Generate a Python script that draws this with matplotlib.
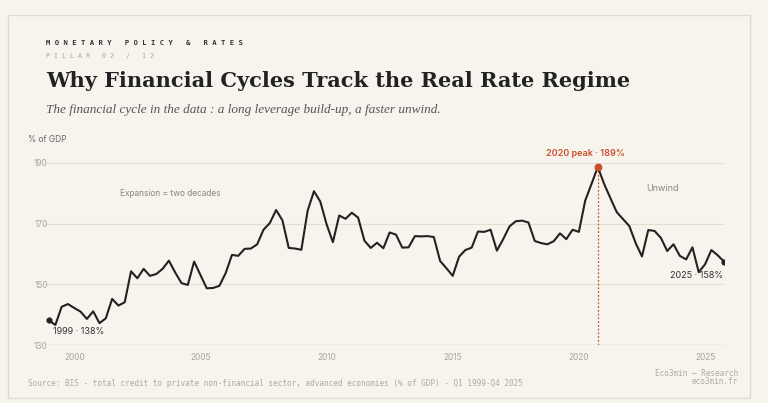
import matplotlib
matplotlib.use("Agg")
import matplotlib.pyplot as plt
from matplotlib.patches import Rectangle

start_year = 1999.0
values = [138.1,136.6,142.6,143.5,142.2,141.0,138.6,141.1,137.2,138.8,145.2,143.0,144.1,154.3,152.0,155.1,
          152.8,153.4,155.1,157.8,153.9,150.4,149.8,157.5,153.1,148.7,148.8,149.5,153.7,159.7,159.4,161.7,
          161.8,163.2,168.0,170.2,174.5,171.1,162.0,161.8,161.4,174.3,180.7,177.3,169.8,163.9,172.7,171.6,
          173.6,172.0,164.4,162.0,163.7,161.9,167.1,166.4,162.1,162.2,
          165.9,165.8,165.9,165.6,157.7,155.3,152.8,159.1,161.3,162.1,167.4,167.3,168.0,161.1,164.9,
          169.1,170.8,171.0,170.4,164.3,163.6,163.2,164.2,166.8,164.9,168.0,167.3,177.6,183.1,188.7,
          183.1,178.4,173.8,171.5,169.2,163.6,159.2,167.9,167.6,165.3,161.0,163.2,159.4,158.2,162.2,
          154.0,156.6,161.3,159.6,157.5]
years = [start_year + i/4 for i in range(len(values))]
yticks = [130, 150, 170, 190]
xticks = [2000, 2005, 2010, 2015, 2020, 2025]

BG = "#f7f4ee"; INK = "#222222"; RED = "#c9502a"; GREY = "#8a8580"; GRID = "#e4ded3"

fig = plt.figure(figsize=(7.68, 4.03), dpi=100, facecolor=BG)
fig.patches.append(Rectangle((8/768, 1-398/403), 742/768, 383/403, transform=fig.transFigure,
                             fill=False, ec="#e0dbd0", lw=1))
W, H = 768, 403
def fy(p): return 1 - p/H

fig.text(46/W, fy(43), "M O N E T A R Y   P O L I C Y   &   R A T E S", family="DejaVu Sans Mono", fontsize=5.2,
         color="#333333", va="center", weight="bold")
fig.text(46/W, fy(56), "P I L L A R   0 2   /   1 2", family="DejaVu Sans Mono", fontsize=4.8, color="#aaa49a", va="center")
fig.text(46/W, fy(81), "Why Financial Cycles Track the Real Rate Regime", family="DejaVu Serif",
         fontsize=15, weight="bold", color=INK, va="center")
fig.text(46/W, fy(110), "The financial cycle in the data : a long leverage build-up, a faster unwind.",
         family="Liberation Serif", style="italic", fontsize=9.5, color="#555555", va="center")
fig.text(28/W, fy(140), "% of GDP", family="Inter", fontsize=6, color="#666666", va="center")

ax = fig.add_axes([45/W, fy(345), (724-45)/W, (345-150)/H])
ax.set_facecolor(BG)
y_top = 190 + (163-150)/((345-163)/60)
ax.set_ylim(130, y_top)
ax.set_xlim(1998.84, years[-1] + 0.001)
ax.plot(years, values, color=INK, lw=1.5, zorder=3)
ax.set_yticks(yticks); ax.set_xticks(xticks)
ax.grid(axis="y", color=GRID, lw=0.8)
for s in ax.spines.values(): s.set_visible(False)
ax.axhline(130, color="#d8d2c6", lw=1)
ax.tick_params(length=0, labelsize=6, labelcolor="#aaa49a", pad=6)
for t in ax.get_xticklabels() + ax.get_yticklabels(): t.set_family("Inter")
ax.yaxis.set_tick_params(pad=-2)

ax.scatter([years[0], years[-1]], [values[0], values[-1]], s=12, color=INK, zorder=4)
ax.text(years[0]+0.15, values[0]-2.3, "1999 · 138%", family="Inter", fontsize=6.5, color="#333333", va="top")
ax.text(years[-1]-0.05, values[-1]-3.2, "2025 · 158%", family="Inter", fontsize=6.5, color="#333333",
        ha="right", va="top")
pk = values.index(max(values))
ax.scatter([years[pk]], [values[pk]], s=22, color=RED, zorder=5)
ax.vlines(years[pk], 130, values[pk], color=RED, lw=0.9, linestyles=(0, (1.5, 1.5)), zorder=2)
ax.text(years[pk]-0.5, 191.5, "2020 peak · 189%", family="Inter", fontsize=6.5, color=RED,
        weight="semibold", ha="center", va="bottom")
ax.text(2001.8, 179.8, "Expansion = two decades", family="Inter", fontsize=6, color=GREY, va="center")
ax.text(2023.3, 181.5, "Unwind", family="Inter", fontsize=6.5, color=GREY, ha="center", va="center")

fig.text(28/W, fy(383), "Source: BIS - total credit to private non-financial sector, advanced economies (% of GDP) - Q1 1999-Q4 2025",
         family="DejaVu Sans Mono", fontsize=5.5, color="#b0aaa0", va="center")
fig.text(738/W, fy(373), "Eco3min — Research", family="DejaVu Sans Mono", fontsize=5.5, color="#b0aaa0",
         ha="right", va="center")
fig.text(738/W, fy(382), "eco3min.fr", family="DejaVu Sans Mono", fontsize=5.5, color="#b0aaa0",
         ha="right", va="center")
fig.savefig("out.png", dpi=100, facecolor=BG)
